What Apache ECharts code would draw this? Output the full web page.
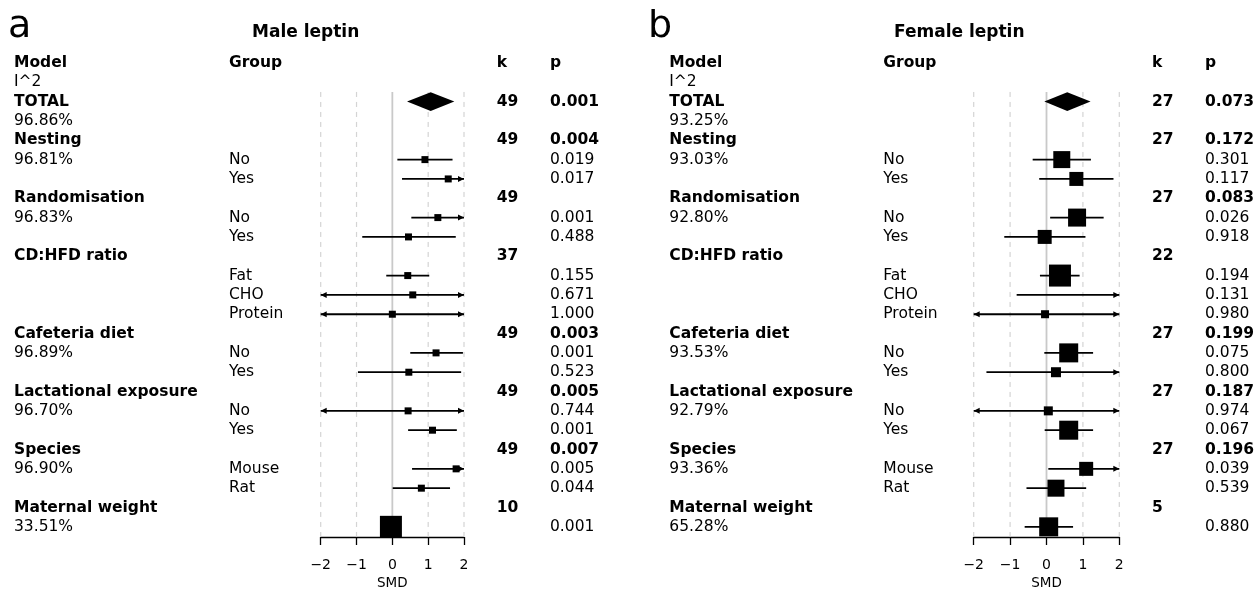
<!DOCTYPE html>
<html><head><meta charset="utf-8">
<script src="https://cdn.jsdelivr.net/npm/echarts@6/dist/echarts.min.js"></script>
<style>html,body{margin:0;padding:0;background:#fff}#c{width:1260px;height:589px}</style>
</head><body><div id="c"></div>
<script>
// ---------- data ----------
const headerModel = ['Model', 'I^2'];
const headerGroup = 'Group';
const headerK = 'k';
const headerP = 'p';

const rowModel = ['TOTAL','','Nesting','','','Randomisation','','','CD:HFD ratio','','','','Cafeteria diet','','','Lactational exposure','','','Species','','','Maternal weight',''];
const rowGroup = ['','','','No','Yes','','No','Yes','','Fat','CHO','Protein','','No','Yes','','No','Yes','','Mouse','Rat','',''];

const maleI2 = ['','96.86%','','96.81%','','','96.83%','','','','','','','96.89%','','','96.70%','','','96.90%','','','33.51%'];
const maleK  = ['49','','49','','','49','','','37','','','','49','','','49','','','49','','','10',''];
const maleP  = ['0.001','','0.004','0.019','0.017','','0.001','0.488','','0.155','0.671','1.000','0.003','0.001','0.523','0.005','0.744','0.001','0.007','0.005','0.044','','0.001'];
const maleEst = [1.07,null,null,0.91,1.56,null,1.27,0.45,null,0.43,0.57,0.00,null,1.22,0.46,null,0.44,1.12,null,1.78,0.81,null,-0.04];
const maleLo  = [0.41,null,null,0.14,0.27,null,0.53,-0.84,null,-0.17,-2.6,-2.7,null,0.50,-0.96,null,-2.5,0.44,null,0.55,0.01,null,-0.32];
const maleHi  = [1.73,null,null,1.68,2.4,null,2.3,1.77,null,1.03,2.7,2.7,null,1.97,1.92,null,3.4,1.80,null,3.0,1.61,null,0.24];
const maleWeight = [null,null,null,7,7,null,7,7,null,7,7,7,null,7,7,null,7,7,null,7,7,null,22];

const femaleI2 = ['','93.25%','','93.03%','','','92.80%','','','','','','','93.53%','','','92.79%','','','93.36%','','','65.28%'];
const femaleK  = ['27','','27','','','27','','','22','','','','27','','','27','','','27','','','5',''];
const femaleP  = ['0.073','','0.172','0.301','0.117','0.083','0.026','0.918','','0.194','0.131','0.980','0.199','0.075','0.800','0.187','0.974','0.067','0.196','0.039','0.539','','0.880'];
const femaleEst = [0.57,null,null,0.42,0.82,null,0.84,-0.05,null,0.37,2.3,-0.04,null,0.61,0.26,null,0.05,0.61,null,1.09,0.26,null,0.06];
const femaleLo  = [-0.06,null,null,-0.38,-0.20,null,0.10,-1.16,null,-0.18,-0.82,-2.6,null,-0.06,-1.65,null,-2.5,-0.05,null,0.05,-0.55,null,-0.60];
const femaleHi  = [1.21,null,null,1.22,1.84,null,1.57,1.07,null,0.91,5.4,2.5,null,1.28,2.2,null,2.6,1.28,null,2.1,1.09,null,0.73];
const femaleWeight = [null,null,null,17,14,null,18,14,null,22,4,8,null,19,10,null,9,19,null,14,17,null,19];

const xTicks = [-2,-1,0,1,2];
const panelLetters = ['a','b'];
const panelTitles = ['Male leptin','Female leptin'];

// ---------- layout ----------
const FONT = 'DejaVu Sans';
const FS = 15.5;
const GRID_TOP = 53.3, GRID_H = 483.2;
const panels = [
  {left:320.7, width:143.3, modelX:14, groupX:229, kX:496.7, pX:550,
   I2:maleI2, K:maleK, P:maleP, est:maleEst, lo:maleLo, hi:maleHi, w:maleWeight},
  {left:973.7, width:145.6, modelX:669.3, groupX:883.3, kX:1152, pX:1205,
   I2:femaleI2, K:femaleK, P:femaleP, est:femaleEst, lo:femaleLo, hi:femaleHi, w:femaleWeight}
];
const N = rowModel.length;

const rich = {
  b:{fontFamily:FONT,fontSize:FS,fontWeight:'bold',color:'#000'},
  n:{fontFamily:FONT,fontSize:FS,fontWeight:'normal',color:'#000'}
};
const B = s => s ? '{b|' + s + '}' : '';
const R = s => s ? '{n|' + s + '}' : '';

const grids = [], xAxes = [], yAxes = [], series = [], titles = [];
const cats = Array.from({length: N + 2}, (_, i) => String(i));

panels.forEach((pn, pi) => {
  grids.push({left: pn.left, top: GRID_TOP, width: pn.width, height: GRID_H,
    containLabel:false, outerBoundsMode:'none'});
  xAxes.push({
    gridIndex: pi, type:'value', min:-2, max:2, interval:1, position:'bottom', offset:0.5,
    axisLine:{show:true, onZero:false, lineStyle:{color:'#000', width:1.3}},
    axisTick:{show:true, length:8, lineStyle:{color:'#000', width:1.3}},
    axisLabel:{fontFamily:FONT, fontSize:14, color:'#000', margin:21,
      formatter: v => v < 0 ? '\u2212' + Math.abs(v) : String(v)},
    splitLine:{show:false},
    name:'SMD', nameLocation:'middle', nameGap:36,
    nameTextStyle:{fontFamily:FONT, fontSize:13.5, color:'#000'}
  });
  const yBase = yAxes.length;
  yAxes.push({gridIndex:pi, type:'value', min:-2.5, max:22.5, inverse:true, show:false});
  const modelText = [B(headerModel[0]), R(headerModel[1])].concat(
    rowModel.map((m, r) => m ? B(m) : R(pn.I2[r])));
  const groupText = [B(headerGroup), ''].concat(rowGroup.map(g => R(g)));
  const kText = [B(headerK), ''].concat(pn.K.map(k => B(k)));
  const pText = [B(headerP), ''].concat(pn.P.map((p, r) => rowModel[r] ? B(p) : R(p)));
  const cols = [
    {txt:modelText, pos:'left', margin: pn.left - pn.modelX},
    {txt:groupText, pos:'left', margin: pn.left - pn.groupX},
    {txt:kText, pos:'right', margin: pn.kX - (pn.left + pn.width)},
    {txt:pText, pos:'right', margin: pn.pX - (pn.left + pn.width)}
  ];
  cols.forEach(c => {
    yAxes.push({
      gridIndex:pi, type:'category', data:cats, inverse:true, position:c.pos,
      axisLine:{show:false}, axisTick:{show:false}, splitLine:{show:false},
      axisLabel:{show:true, interval:0, align:'left', margin:c.margin,
        formatter:(v, idx) => c.txt[idx] || '', rich:rich}
    });
  });

  series.push({
    type:'custom', xAxisIndex:pi, yAxisIndex:yBase, silent:true, z:1,
    data: xTicks.map(x => [x]),
    encode:{x:0},
    renderItem:(params, api) => {
      const x = api.value(0);
      const a = api.coord([x, -0.5]), b = api.coord([x, 22.5]);
      const zero = x === 0;
      return {type:'line', shape:{x1:a[0], y1:a[1], x2:b[0], y2:b[1]},
        style:{stroke: zero ? '#c9c9c9' : '#d4d4d4', lineWidth: zero ? 1.8 : 1.2,
               lineDash: zero ? null : [5,5]}};
    }
  });

  const ciData = [];
  for (let r = 0; r < N; r++) {
    if (pn.est[r] !== null && r !== 0) ciData.push([r, pn.lo[r], pn.hi[r]]);
  }
  series.push({
    type:'custom', xAxisIndex:pi, yAxisIndex:yBase, silent:true, z:2,
    data: ciData, encode:{y:0, x:[1,2]},
    renderItem:(params, api) => {
      const r = api.value(0), lo = api.value(1), hi = api.value(2);
      const p1 = api.coord([Math.max(lo, -2), r]), p2 = api.coord([Math.min(hi, 2), r]);
      const ch = [{type:'line', shape:{x1:p1[0], y1:p1[1], x2:p2[0], y2:p2[1]},
        style:{stroke:'#000', lineWidth:1.8}}];
      if (lo < -2) ch.push({type:'polygon', shape:{points:[[p1[0], p1[1]], [p1[0]+6, p1[1]-3], [p1[0]+6, p1[1]+3]]}, style:{fill:'#000'}});
      if (hi > 2) ch.push({type:'polygon', shape:{points:[[p2[0], p2[1]], [p2[0]-6, p2[1]-3], [p2[0]-6, p2[1]+3]]}, style:{fill:'#000'}});
      return {type:'group', children:ch};
    }
  });

  const sqData = [];
  for (let r = 0; r < N; r++) {
    if (pn.est[r] !== null && r !== 0) sqData.push([r, pn.est[r], pn.w[r]]);
  }
  series.push({
    type:'custom', xAxisIndex:pi, yAxisIndex:yBase, silent:true, z:3,
    data: sqData, encode:{y:0, x:1},
    renderItem:(params, api) => {
      const r = api.value(0), e = api.value(1), s = api.value(2);
      if (e < -2 || e > 2) return null;
      const c = api.coord([e, r]);
      return {type:'rect', shape:{x:c[0]-s/2, y:c[1]-s/2, width:s, height:s}, style:{fill:'#000'}};
    }
  });

  series.push({
    type:'custom', xAxisIndex:pi, yAxisIndex:yBase, silent:true, z:3,
    data: [[0, pn.lo[0], pn.est[0], pn.hi[0]]], encode:{y:0, x:[1,2,3]},
    renderItem:(params, api) => {
      const r = api.value(0), lo = api.value(1), e = api.value(2), hi = api.value(3);
      const pts = [api.coord([lo, r]), api.coord([e, r-0.49]), api.coord([hi, r]), api.coord([e, r+0.49])];
      return {type:'polygon', shape:{points:pts}, style:{fill:'#000'}};
    }
  });
});

titles.push({text:panelLetters[0], left:8, top:8, padding:0, textStyle:{fontFamily:FONT, fontSize:38, fontWeight:'normal', color:'#000'}});
titles.push({text:panelTitles[0], left:252, top:24, padding:0, textStyle:{fontFamily:FONT, fontSize:17, fontWeight:'bold', color:'#000'}});
titles.push({text:panelLetters[1], left:648, top:8, padding:0, textStyle:{fontFamily:FONT, fontSize:38, fontWeight:'normal', color:'#000'}});
titles.push({text:panelTitles[1], left:894, top:24, padding:0, textStyle:{fontFamily:FONT, fontSize:17, fontWeight:'bold', color:'#000'}});

const chart = echarts.init(document.getElementById('c'), null, {renderer:'canvas'});
chart.setOption({
  animation:false,
  backgroundColor:'#fff',
  title:titles,
  grid:grids, xAxis:xAxes, yAxis:yAxes, series:series
});
</script></body></html>
